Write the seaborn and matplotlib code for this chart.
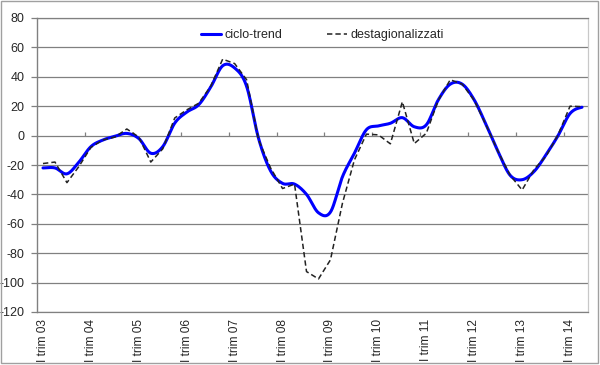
import numpy as np
import pandas as pd
import matplotlib
matplotlib.use("Agg")
import matplotlib.pyplot as plt
from matplotlib.patches import Rectangle
import seaborn as sns

# ---- data ----
tick_labels = ["I trim 03", "I trim 04", "I trim 05", "I trim 06", "I trim 07", "I trim 08",
               "I trim 09", "I trim 10", "I trim 11", "I trim 12", "I trim 13", "I trim 14"]
n_quarters = 46
ciclo_trend = [-22, -22, -26, -18, -7.5, -3, -0.5, 1.5, -2, -12, -7.5, 8.5,
               16, 21, 33, 47.5, 46, 33.5, -2, -24, -32.5, -33, -40, -52.5,
               -52, -28, -12, 4, 6.6, 8.4, 12.2, 6, 7.3, 24.3, 35, 35,
               24.3, 7.3, -11, -27, -30, -24.4, -13, 0, 15, 19.3]
destagionalizzati = [-19, -18, -32, -21, -8, -3, -1, 4.5, -1, -18, -9, 12,
                     17.5, 22, 33.5, 52, 49, 38, -3, -22, -36, -33, -92.5, -97.5,
                     -84.5, -46, -16.5, 1, 0.5, -5.6, 23, -5.4, 1.6, 24, 38, 35,
                     24, 7, -11, -27, -37, -23, -14, 0.5, 20, 19.7]
y_ticks = [-120, -100, -80, -60, -40, -20, 0, 20, 40, 60, 80]


def smooth(values, steps=20):
    """Catmull-Rom smoothing (like a spreadsheet 'smoothed line')."""
    v = np.asarray(values, dtype=float)
    p = np.concatenate([[v[0]], v, [v[-1]]])
    xs, ys = [], []
    for i in range(len(v) - 1):
        p0, p1, p2, p3 = p[i], p[i + 1], p[i + 2], p[i + 3]
        t = np.linspace(0, 1, steps, endpoint=False)
        y = 0.5 * (2 * p1 + (-p0 + p2) * t + (2 * p0 - 5 * p1 + 4 * p2 - p3) * t ** 2
                   + (-p0 + 3 * p1 - 3 * p2 + p3) * t ** 3)
        xs.extend(i + t)
        ys.extend(y)
    xs.append(len(v) - 1)
    ys.append(v[-1])
    return np.array(xs), np.array(ys)


sns.set_style("white")
plt.rcParams["font.family"] = ["Liberation Sans", "DejaVu Sans"]

fig = plt.figure(figsize=(6.0, 3.65), dpi=100)
ax = fig.add_axes([37 / 600, 1 - 312 / 365, 551 / 600, 294 / 365])

grid_c = "#808080"
for v in y_ticks:
    if v != 0:
        ax.axhline(v, color=grid_c, lw=0.9, zorder=0)

xs, ys = smooth(ciclo_trend)
df_s = pd.DataFrame({"x": xs, "y": ys})
df_d = pd.DataFrame({"x": np.arange(n_quarters), "y": destagionalizzati})

sns.lineplot(data=df_s, x="x", y="y", ax=ax, color="#0000FF", lw=2.2,
             label="ciclo-trend", sort=False, zorder=3)
sns.lineplot(data=df_d, x="x", y="y", ax=ax, color="#222222", lw=1.1,
             label="destagionalizzati", zorder=4, dashes=False)
ax.lines[-1].set_linestyle((0, (3.5, 2)))

ax.set_xlim(-0.5, n_quarters - 0.5)
ax.set_ylim(-120, 80)
ax.set_xlabel("")
ax.set_ylabel("")

ax.set_yticks(y_ticks)
ax.set_yticklabels([str(v) for v in y_ticks], fontsize=9)
ax.tick_params(axis="y", length=4, width=0.9, color=grid_c, pad=5, left=True)

ax.set_xticks(np.arange(0, n_quarters, 4))
ax.set_xticklabels(tick_labels, rotation=90, fontsize=8.6, va="top", ha="center")
ax.tick_params(axis="x", length=0, pad=5, bottom=True)

# category axis crossing at 0 with tick marks between year groups
sec = ax.secondary_xaxis(120 / 200)
sec.set_xticks(np.arange(3.5, n_quarters, 4))
sec.set_xticklabels([])
sec.tick_params(axis="x", length=3, width=0.9, color=grid_c, direction="out")
for s in sec.spines.values():
    s.set_color(grid_c)
    s.set_linewidth(0.9)

for s in ["top", "bottom"]:
    ax.spines[s].set_color(grid_c)
    ax.spines[s].set_linewidth(0.9)
ax.spines["left"].set_color(grid_c)
ax.spines["left"].set_linewidth(1.0)
ax.spines["right"].set_color("#c8c8c8")
ax.spines["right"].set_linewidth(0.9)

leg = ax.legend(loc="center", bbox_to_anchor=(0.518, 0.942), ncol=2, frameon=False,
                fontsize=9, handlelength=1.6, handletextpad=0.25, columnspacing=3.6)

fig.patches.append(Rectangle((0.5 / 600, 2.5 / 365), 597.5 / 600, 361.5 / 365,
                             transform=fig.transFigure, fill=False,
                             edgecolor="#a0a0a0", lw=1.0))

fig.savefig("out.png", dpi=100, facecolor="white")
